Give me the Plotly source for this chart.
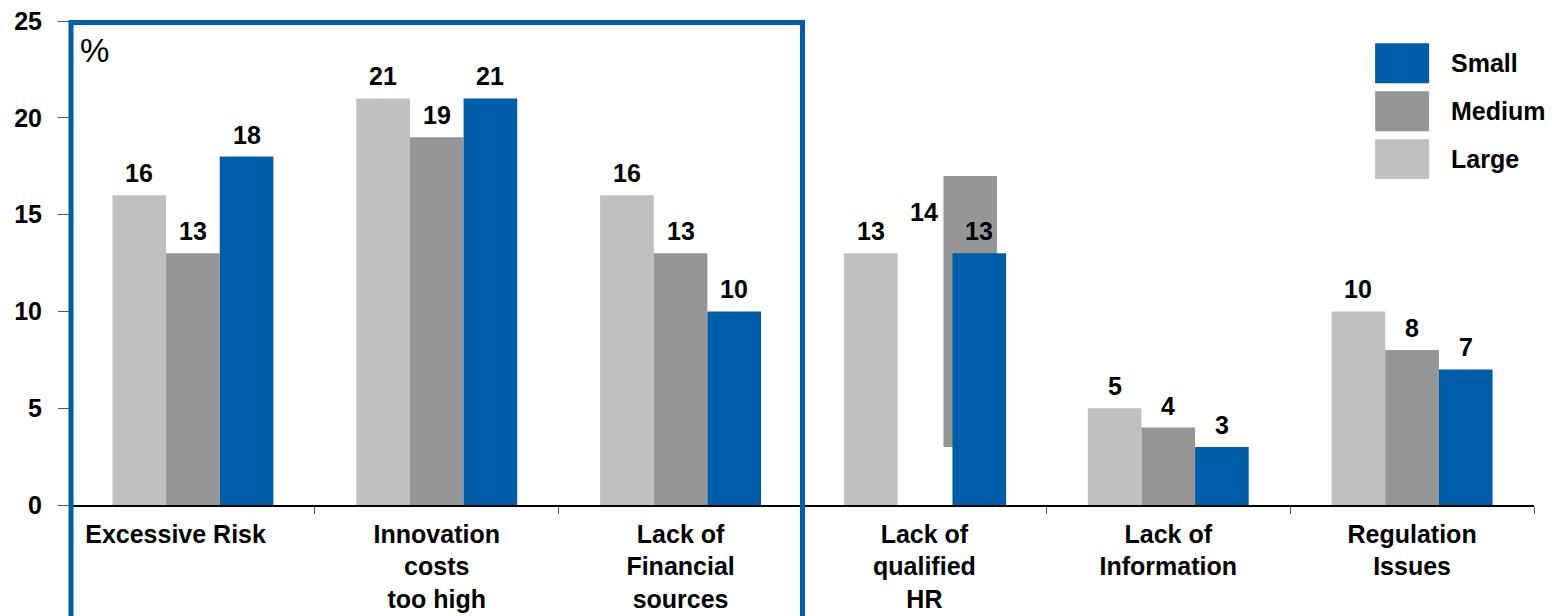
import plotly.graph_objects as go

categories = ["Excessive Risk\u00a0\u00a0\u00a0\u00a0\u00a0", "Innovation<br>costs<br>too high",
              "Lack of<br>Financial<br>sources", "Lack of<br>qualified<br>HR", "Lack of<br>Information",
              "Regulation<br>Issues"]
large = [16, 21, 16, 13, 5, 10]
medium = [13, 19, 13, 14, 4, 8]
small = [18, 21, 10, 13, 3, 7]
# the medium bar of "Lack of qualified HR" is drawn floating in the source chart
medium_base = [0, 0, 0, 3, 0, 0]

C_LARGE = "#C0C0C0"
C_MED = "#969696"
C_SMALL = "#005DAA"
FONT = "Liberation Sans, Arial, sans-serif"

W = 0.22
off_large = [-0.33] * 6
off_med = [-0.11, -0.11, -0.11, 0.078, -0.11, -0.11]
off_small = [0.11, 0.11, 0.11, 0.115, 0.11, 0.11]

fig = go.Figure()
fig.add_bar(x=categories, y=large, width=W, offset=off_large, marker_color=C_LARGE,
            marker_line_width=0, name="Large", showlegend=False)
fig.add_bar(x=categories, y=medium, base=medium_base, width=W, offset=off_med, marker_color=C_MED,
            marker_line_width=0, name="Medium", showlegend=False)
fig.add_bar(x=categories, y=small, width=W, offset=off_small, marker_color=C_SMALL,
            marker_line_width=0, name="Small", showlegend=False)

annotations = []
label_font = dict(family=FONT, size=25, color="black", weight="bold")
for vals, offs in ((large, [-0.33] * 6), (medium, [-0.11] * 6), (small, off_small)):
    for i, v in enumerate(vals):
        annotations.append(dict(x=i + offs[i] + W / 2, y=v, xref="x", yref="y", text=str(v),
                                showarrow=False, yanchor="bottom", yshift=6, font=label_font))

# "%" unit label
annotations.append(dict(x=0.005, y=0.94, xref="paper", yref="paper", text="%", showarrow=False,
                        xanchor="left", yanchor="middle",
                        font=dict(family=FONT, size=33, color="black")))

shapes = []
# custom legend
legend_items = [("Small", C_SMALL, 0.954, 0.8714, 0.9127),
                ("Medium", C_MED, 0.8549, 0.7723, 0.8135),
                ("Large", C_LARGE, 0.7558, 0.6733, 0.7144)]
for name, col, y1, y0, yt in legend_items:
    shapes.append(dict(type="rect", xref="paper", yref="paper", x0=0.8914, x1=0.9283, y0=y0, y1=y1,
                       fillcolor=col, line_width=0))
    annotations.append(dict(x=0.9419, y=yt, xref="paper", yref="paper", text=name, showarrow=False,
                            xanchor="left", yanchor="middle", font=label_font))

# blue highlight box around first three categories
shapes.append(dict(type="rect", xref="paper", yref="paper", x0=0.0, x1=0.5, y0=-0.5, y1=0.997,
                   line=dict(color=C_SMALL, width=5), fillcolor="rgba(0,0,0,0)", layer="above"))

fig.update_layout(
    width=1552, height=616,
    margin=dict(l=70.5, r=18, t=21, b=111, autoexpand=False),
    plot_bgcolor="white", paper_bgcolor="white",
    barmode="overlay",
    annotations=annotations, shapes=shapes,
    xaxis=dict(type="category", tickson="boundaries", ticks="outside", ticklen=7, tickcolor="#555",
               showline=True, linecolor="black", linewidth=1.5, showgrid=False, automargin=False,
               ticklabelstandoff=6,
               tickfont=dict(family=FONT, size=25, color="black", weight="bold"),
               range=[-0.5, 5.5]),
    yaxis=dict(range=[0, 25], tickvals=[0, 5, 10, 15, 20, 25], ticks="outside", ticklen=12,
               tickcolor="#555", showline=True, linecolor="#888", linewidth=1, showgrid=False,
               zeroline=False, ticklabelstandoff=11, automargin=False,
               tickfont=dict(family=FONT, size=25, color="black", weight="bold")),
)

fig.write_html("out.html")
